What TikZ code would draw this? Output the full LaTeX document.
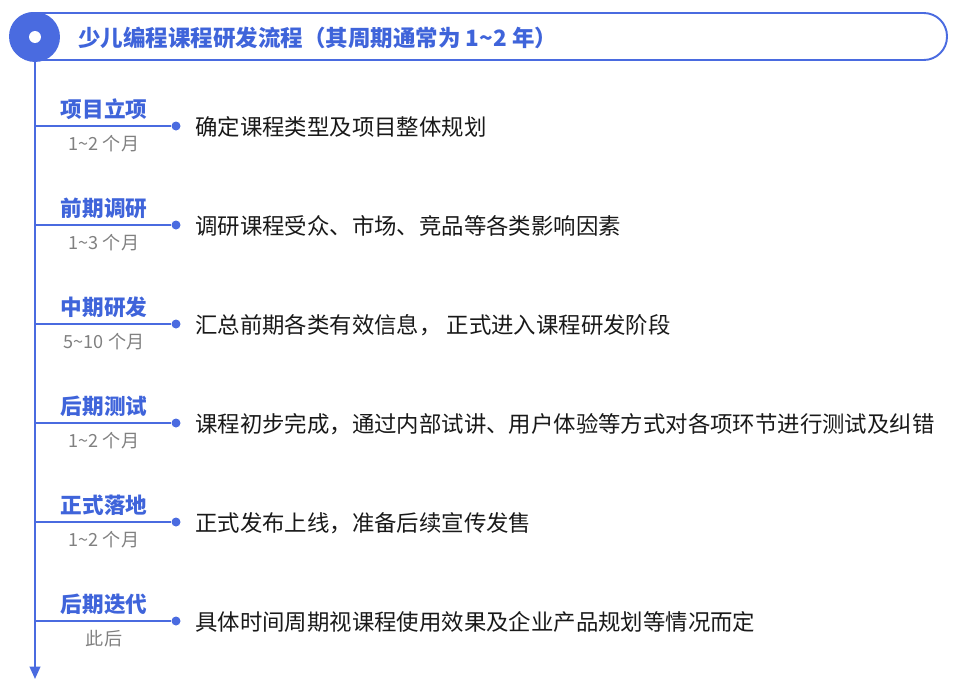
\documentclass[tikz,border=0pt]{standalone}
\usepackage{fontspec}
\setmainfont{Noto Sans CJK SC}
\usetikzlibrary{arrows.meta}
\definecolor{flowblue}{HTML}{4A6BE0}
\definecolor{labelblue}{HTML}{3F64DA}
\definecolor{spangray}{HTML}{808080}
\begin{document}
\begin{tikzpicture}[
  x=0.02cm, y=-0.02cm,
  line/.style={draw=flowblue, line width=1.1pt},
  stage/.style={font=\bfseries\fontsize{12.3}{14}\selectfont, text=labelblue, inner sep=0pt},
  period/.style={font=\fontsize{10.3}{12}\selectfont, text=spangray, inner sep=0pt},
  task/.style={font=\fontsize{12.75}{15}\selectfont, text=black!90, anchor=west, inner sep=0pt},
  dot/.style={circle, fill=flowblue, inner sep=0pt, minimum size=0.18cm}
]
\useasboundingbox (0,0) rectangle (960,683);

% header
\draw[line, rounded corners=0.465cm] (10,13) rectangle (947,60);
\node[circle, fill=flowblue, inner sep=0pt, minimum size=1cm] (hub) at (35,37) {};
\node[circle, fill=white, inner sep=0pt, minimum size=0.24cm] (hubdot) at (hub) {};
\node[anchor=west, inner sep=0pt, text=labelblue, font=\bfseries\fontsize{12.8}{15}\selectfont] (title) at (78,38)
  {少儿编程课程研发流程（其周期通常为 1\textasciitilde2 年）};

% axis
\coordinate (axisend) at (35,679);
\draw[line, -{Triangle[width=6pt,length=7pt]}] (hub) -- (axisend);

% stages
\foreach \y/\stagename/\stagetime/\stagetask [count=\i] in {
  126/{项目立项}/{1\textasciitilde2 个月}/{确定课程类型及项目整体规划},
  225/{前期调研}/{1\textasciitilde3 个月}/{调研课程受众、市场、竞品等各类影响因素},
  324/{中期研发}/{5\textasciitilde10 个月}/{汇总前期各类有效信息， 正式进入课程研发阶段},
  423/{后期测试}/{1\textasciitilde2 个月}/{课程初步完成，通过内部试讲、用户体验等方式对各项环节进行测试及纠错},
  522/{正式落地}/{1\textasciitilde2 个月}/{正式发布上线，准备后续宣传发售},
  621/{后期迭代}/{此后}/{具体时间周期视课程使用效果及企业产品规划等情况而定}}
{
  \coordinate (base\i) at (35,\y);
  \node[dot] (dot\i) at (176,\y) {};
  \draw[line] (base\i) -- (dot\i);
  \node[stage] (stage\i) at (104,\y-17) {\stagename};
  \node[period] (period\i) at (104,\y+18) {\stagetime};
  \node[task] (task\i) at (195,\y+1) {\stagetask};
}
\end{tikzpicture}
\end{document}
